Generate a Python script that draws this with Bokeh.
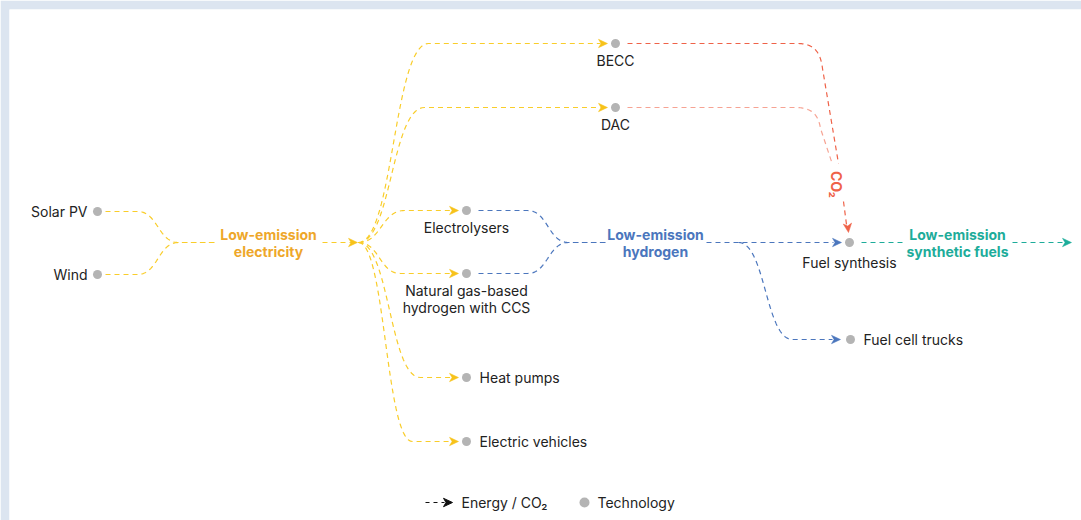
import numpy as np
from bokeh.plotting import figure
from bokeh.models import Range1d
from bokeh.core.properties import value
from bokeh.embed import file_html
from bokeh.resources import INLINE

# ------------------------------------------------------------------ data
technologies = ["Solar PV", "Wind", "BECC", "DAC", "Electrolysers",
                "Natural gas-based|hydrogen with CCS", "Heat pumps",
                "Electric vehicles", "Fuel synthesis", "Fuel cell trucks"]
carriers = ["Low-emission|electricity", "Low-emission|hydrogen",
            "Low-emission|synthetic fuels"]
flow_source = ["Solar PV", "Wind",
               "Low-emission|electricity", "Low-emission|electricity",
               "Low-emission|electricity", "Low-emission|electricity",
               "Low-emission|electricity", "Low-emission|electricity",
               "Electrolysers", "Natural gas-based|hydrogen with CCS",
               "Low-emission|hydrogen", "Low-emission|hydrogen",
               "BECC", "DAC", "Fuel synthesis"]
flow_target = ["Low-emission|electricity", "Low-emission|electricity",
               "BECC", "DAC", "Electrolysers",
               "Natural gas-based|hydrogen with CCS", "Heat pumps",
               "Electric vehicles",
               "Low-emission|hydrogen", "Low-emission|hydrogen",
               "Fuel synthesis", "Fuel cell trucks",
               "Fuel synthesis", "Fuel synthesis", "Low-emission|synthetic fuels"]
co2_label = "CO₂"
legend_labels = ["Energy / CO₂", "Technology"]

# ------------------------------------------------------------------ layout / style
FONT = "Inter"
TXT = "#222222"
YEL = "#f9cd2a"
ORANGE = "#eea72a"
BLUE = "#4b76bd"
RED = "#ef6248"
RED_L = "#f6a393"
TEAL = "#1dac9a"
DOT = "#b4b4b4"
PAGE_BG = "#dce5f0"
DASH = "5 4"
LW = 1.2

node_pos = {
    "Solar PV": (97, 211), "Wind": (97, 274), "BECC": (615, 43), "DAC": (615, 107),
    "Electrolysers": (466, 210), "Natural gas-based|hydrogen with CCS": (466, 273),
    "Heat pumps": (466, 377), "Electric vehicles": (466, 441),
    "Fuel synthesis": (849, 242), "Fuel cell trucks": (850, 339),
}
# label placement: (anchor, dx, dy)
label_place = {
    "Solar PV": ("right", -10, 0), "Wind": ("right", -10, 0),
    "BECC": ("below", 0, 17), "DAC": ("below", 0, 17),
    "Electrolysers": ("below", 0, 17),
    "Natural gas-based|hydrogen with CCS": ("below", 0, 17),
    "Heat pumps": ("left", 13, 0), "Electric vehicles": ("left", 13, 0),
    "Fuel synthesis": ("below", 0, 20), "Fuel cell trucks": ("left", 13, 0),
}
carrier_pos = {"Low-emission|electricity": (268, 242),
               "Low-emission|hydrogen": (655, 242),
               "Low-emission|synthetic fuels": (957, 242)}
carrier_col = {"Low-emission|electricity": ORANGE,
               "Low-emission|hydrogen": BLUE,
               "Low-emission|synthetic fuels": TEAL}

# routes: waypoints; ("L", x, y) straight, ("S", x, y) s-curve, ("C", c1x, c1y, c2x, c2y, x, y)
routes = {
    ("Solar PV", "Low-emission|electricity"): [(105, 211), ("L", 137, 211), ("S", 178, 242), ("L", 214, 242)],
    ("Wind", "Low-emission|electricity"): [(105, 274), ("L", 137, 274), ("S", 178, 242), ("L", 214, 242)],
    ("Low-emission|electricity", "BECC"): [(358, 242), ("S", 428, 43), ("L", 600, 43)],
    ("Low-emission|electricity", "DAC"): [(358, 242), ("S", 424, 107), ("L", 600, 107)],
    ("Low-emission|electricity", "Electrolysers"): [(358, 242), ("S", 404, 210), ("L", 451, 210)],
    ("Low-emission|electricity", "Natural gas-based|hydrogen with CCS"): [(358, 242), ("S", 400, 273), ("L", 451, 273)],
    ("Low-emission|electricity", "Heat pumps"): [(358, 242), ("S", 420, 377), ("L", 451, 377)],
    ("Low-emission|electricity", "Electric vehicles"): [(358, 242), ("S", 412, 441), ("L", 451, 441)],
    ("Electrolysers", "Low-emission|hydrogen"): [(478, 210), ("L", 527, 210), ("S", 568, 242), ("L", 606, 242)],
    ("Natural gas-based|hydrogen with CCS", "Low-emission|hydrogen"): [(478, 273), ("L", 527, 273), ("S", 568, 242), ("L", 606, 242)],
    ("Low-emission|hydrogen", "Fuel synthesis"): [(706, 242), ("L", 833, 242)],
    ("Low-emission|hydrogen", "Fuel cell trucks"): [(738, 242), ("S", 792, 339), ("L", 832, 339)],
    ("BECC", "Fuel synthesis"): [(627, 43), ("L", 797, 43), ("C", 814, 43, 820, 52, 822, 68), ("L", 838, 163)],
    ("DAC", "Fuel synthesis"): [(627, 107), ("L", 795, 107), ("C", 812, 107, 818, 115, 820, 128), ("L", 832, 164)],
    ("Fuel synthesis", "Low-emission|synthetic fuels"): [(861, 242), ("L", 903, 242)],
}
extra_lines = [  # (path, colour)
    ([(322, 242), ("L", 352, 242)], YEL),
    ([(1012, 242), ("L", 1064, 242)], TEAL),
    ([(843, 201), ("L", 846, 224)], RED),
]
arrows = [  # tip x, tip y, direction (dx, dy), colour
    (357, 242, (1, 0), "#f7c21a"),
    (607, 43, (1, 0), "#f7c21a"), (607, 107, (1, 0), "#f7c21a"),
    (458, 210, (1, 0), "#f7c21a"), (458, 273, (1, 0), "#f7c21a"),
    (458, 377, (1, 0), "#f7c21a"), (458, 441, (1, 0), "#f7c21a"),
    (841, 242, (1, 0), BLUE), (840, 339, (1, 0), BLUE),
    (848, 232, (0.12, 1), RED), (1071, 242, (1, 0), TEAL),
]
co2_pos = (836, 184)


def bez(p0, p1, p2, p3, n=40):
    t = np.linspace(0, 1, n)[:, None]
    pts = ((1 - t) ** 3) * np.array(p0) + 3 * ((1 - t) ** 2) * t * np.array(p1) \
        + 3 * (1 - t) * t ** 2 * np.array(p2) + t ** 3 * np.array(p3)
    return pts


def build(route):
    xs, ys = [route[0][0]], [route[0][1]]
    for seg in route[1:]:
        cur = (xs[-1], ys[-1])
        if seg[0] == "L":
            xs.append(seg[1]); ys.append(seg[2])
        elif seg[0] == "S":
            end = (seg[1], seg[2])
            mx = (cur[0] + end[0]) / 2
            pts = bez(cur, (mx, cur[1]), (mx, end[1]), end)
            xs += list(pts[1:, 0]); ys += list(pts[1:, 1])
        else:
            pts = bez(cur, (seg[1], seg[2]), (seg[3], seg[4]), (seg[5], seg[6]))
            xs += list(pts[1:, 0]); ys += list(pts[1:, 1])
    return xs, ys


def flow_colour(src, tgt):
    if src == "BECC":
        return RED
    if src == "DAC":
        return RED_L
    if src == "Fuel synthesis":
        return TEAL
    if src in ("Electrolysers", "Natural gas-based|hydrogen with CCS", "Low-emission|hydrogen"):
        return BLUE
    return YEL


p = figure(width=1081, height=520, output_backend="svg", toolbar_location=None,
           x_range=Range1d(9, 1081), y_range=Range1d(520, 9),
           min_border_left=9, min_border_top=9, min_border_right=0, min_border_bottom=0,
           outline_line_color=None, background_fill_color="white",
           border_fill_color=PAGE_BG)
p.axis.visible = False
p.grid.visible = False

# flows
mx, my, mc = [], [], []
for s, t in zip(flow_source, flow_target):
    xs, ys = build(routes[(s, t)])
    mx.append(xs); my.append(ys); mc.append(flow_colour(s, t))
for r, c in extra_lines:
    xs, ys = build(r)
    mx.append(xs); my.append(ys); mc.append(c)
p.multi_line(mx, my, line_color=mc, line_width=LW, line_dash=DASH)

# arrowheads
ax, ay, acol = [], [], []
for tx, ty, (dx, dy), c in arrows:
    n = np.hypot(dx, dy); dx, dy = dx / n, dy / n
    px, py = -dy, dx
    L, W, N = 9, 4.2, 2.5
    ax.append([tx, tx - L * dx + W * px, tx - (L - N) * dx, tx - L * dx - W * px])
    ay.append([ty, ty - L * dy + W * py, ty - (L - N) * dy, ty - L * dy - W * py])
    acol.append(c)
p.patches(ax, ay, fill_color=acol, line_color=acol, line_width=0.5)

# technology dots
p.scatter([node_pos[n][0] for n in technologies], [node_pos[n][1] for n in technologies],
          size=9, color=DOT, line_color=None)

# technology labels
for n in technologies:
    x, y = node_pos[n]
    mode, dx, dy = label_place[n]
    lines = n.split("|")
    if mode in ("right", "left"):
        p.text([x + dx], [y + dy], text=[lines[0]], text_align=mode, text_baseline="middle",
               text_font=value(FONT), text_font_size="14px", text_color=TXT)
    else:
        for i, ln in enumerate(lines):
            p.text([x + dx], [y + dy + 17 * i], text=[ln], text_align="center", text_baseline="middle",
                   text_font=value(FONT), text_font_size="14px", text_color=TXT)

# carrier labels
for c in carriers:
    x, y = carrier_pos[c]
    lines = c.split("|")
    for i, ln in enumerate(lines):
        p.text([x], [y - 8 + 17 * i], text=[ln], text_align="center", text_baseline="middle",
               text_font=value(FONT), text_font_size="14px", text_font_style="bold",
               text_color=carrier_col[c])

# CO2 label (rotated)
p.text([co2_pos[0]], [co2_pos[1]], text=[co2_label], angle=-np.pi / 2, text_align="center",
       text_baseline="middle", text_font=value(FONT), text_font_size="14px",
       text_font_style="bold", text_color=RED)

# legend
xs, ys = build([(425, 502), ("L", 444, 502)])
p.line(xs, ys, line_color="#111111", line_width=LW, line_dash="4 4")
p.patches([[452, 443, 445.5, 443]], [[502, 497.8, 502, 506.2]], fill_color="#111111", line_color="#111111")
p.text([461], [502], text=[legend_labels[0]], text_align="left", text_baseline="middle",
       text_font=value(FONT), text_font_size="14px", text_color=TXT)
p.scatter([584], [502], size=10, color=DOT, line_color=None)
p.text([597], [502], text=[legend_labels[1]], text_align="left", text_baseline="middle",
       text_font=value(FONT), text_font_size="14px", text_color=TXT)

open("out.html", "w").write(file_html(p, INLINE))
